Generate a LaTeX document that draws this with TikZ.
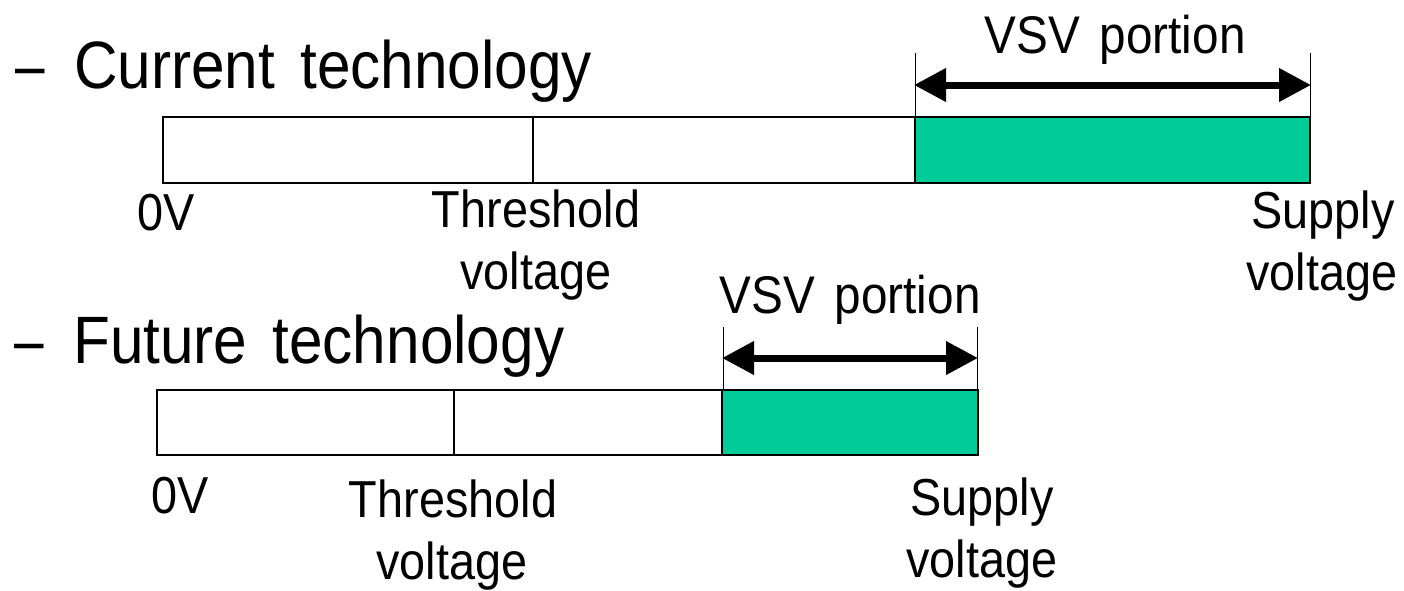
\documentclass[tikz,border=0pt]{standalone}
\usepackage{fontspec}
\setmainfont[FakeStretch=0.9,WordSpace=1.5]{Liberation Sans}
\usetikzlibrary{arrows.meta}
\definecolor{vsvgreen}{RGB}{0,204,153}
\tikzset{
  head/.style={font=\fontsize{67}{80}\selectfont, anchor=base west, inner sep=0pt},
  lab/.style={font=\fontsize{52}{62}\selectfont, anchor=base, inner sep=0pt},
  vsv/.style={font=\fontsize{53}{64}\selectfont, anchor=base, inner sep=0pt},
  barline/.style={draw=black, line width=2pt},
  divline/.style={draw=black, line width=1.5pt},
  tickline/.style={draw=black, line width=1pt},
  span/.style={draw=black, line width=7pt, {Triangle[length=32pt,width=32pt]}-{Triangle[length=32pt,width=32pt]}, shorten <=-1pt, shorten >=-1pt},
}
\begin{document}
\begin{tikzpicture}[x=1pt,y=-1pt]
\useasboundingbox (0,0) rectangle (1404,590);
% ---------- Current technology ----------
\node[head, xscale=0.88, transform shape] (d1) at (15,88) {–};
\node[head] (h1) at (74,88) {Current technology};
\draw[barline] (163,117) rectangle (1310,183);
\draw[divline] (533,117) -- (533,183);
\draw[barline, fill=vsvgreen] (915,117) rectangle (1310,183);
\coordinate (t1a) at (915,53);
\coordinate (t1b) at (1310,53);
\coordinate (b1a) at (915,117);
\coordinate (b1b) at (1310,117);
\draw[tickline] (t1a) -- (b1a);
\draw[tickline] (t1b) -- (b1b);
\coordinate (a1l) at (915,85);
\coordinate (a1r) at (1310,85);
\draw[span] (a1l) -- (a1r);
\node[vsv] (v1) at (1115,53) {VSV portion};
\node[lab] (z1) at (166,230) {0V};
\node[lab] (th1) at (536,227) {Threshold};
\node[lab] (th1b) at (536,289) {voltage};
\node[lab] (s1) at (1323,228) {Supply};
\node[lab] (s1b) at (1322,290) {voltage};
% ---------- Future technology ----------
\node[head, xscale=0.88, transform shape] (d2) at (14,363) {–};
\node[head] (h2) at (73,363) {Future technology};
\draw[barline] (157,390) rectangle (978,455);
\draw[divline] (454,390) -- (454,455);
\draw[barline, fill=vsvgreen] (722,390) rectangle (978,455);
\coordinate (t2a) at (723,327);
\coordinate (t2b) at (977,327);
\coordinate (b2a) at (723,390);
\coordinate (b2b) at (977,390);
\draw[tickline] (t2a) -- (b2a);
\draw[tickline] (t2b) -- (b2b);
\coordinate (a2l) at (723,358);
\coordinate (a2r) at (977,358);
\draw[span] (a2l) -- (a2r);
\node[vsv] (v2) at (850,313) {VSV portion};
\node[lab] (z2) at (180,513) {0V};
\node[lab] (th2) at (453,517) {Threshold};
\node[lab] (th2b) at (452,579) {voltage};
\node[lab] (s2) at (982,515) {Supply};
\node[lab] (s2b) at (982,577) {voltage};
\end{tikzpicture}
\end{document}
